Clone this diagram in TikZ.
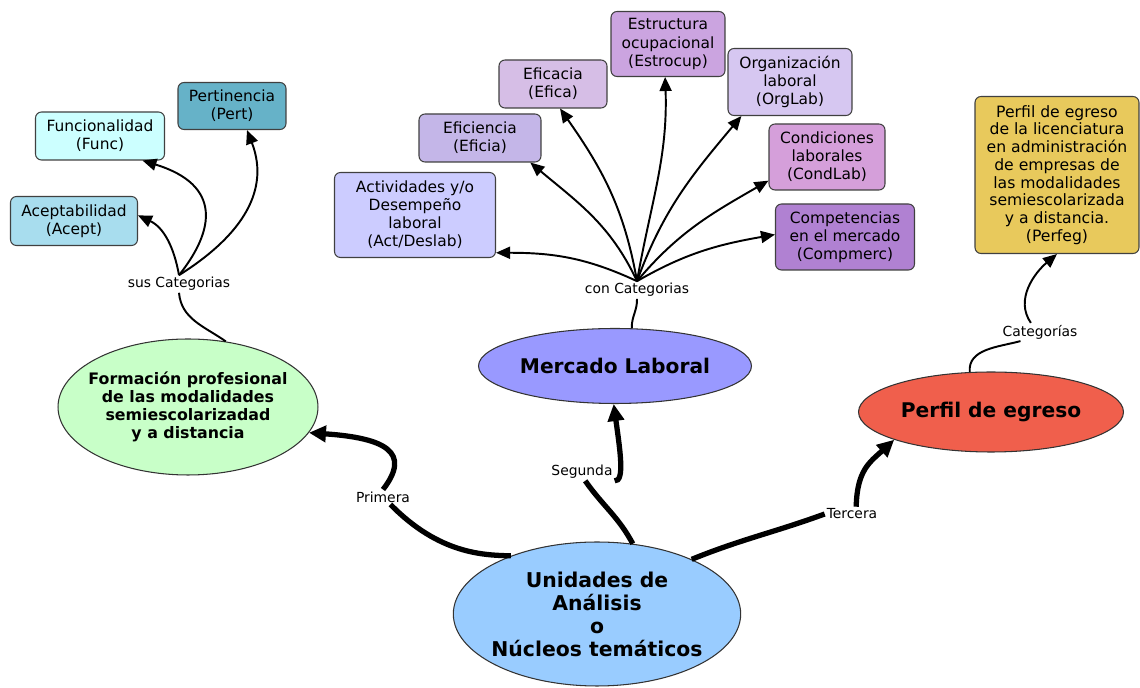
\documentclass[tikz,border=0pt]{standalone}
\usepackage{fontspec}
\setmainfont{DejaVu Sans}
\definecolor{cFun}{HTML}{CCFFFF}
\definecolor{cPer}{HTML}{66B2C8}
\definecolor{cAce}{HTML}{A8DDEE}
\definecolor{cAct}{HTML}{CCCCFF}
\definecolor{cEfi}{HTML}{C4B6E8}
\definecolor{cEfc}{HTML}{D6BEE6}
\definecolor{cEst}{HTML}{CBA4E0}
\definecolor{cOrg}{HTML}{D6C7F1}
\definecolor{cCon}{HTML}{D59FDA}
\definecolor{cCom}{HTML}{B081D2}
\definecolor{cPf}{HTML}{E8C95C}
\definecolor{cFor}{HTML}{C8FFC8}
\definecolor{cMer}{HTML}{9999FF}
\definecolor{cPeg}{HTML}{F05F4C}
\definecolor{cUni}{HTML}{99CCFF}
\usetikzlibrary{arrows.meta, shapes.geometric}

\begin{document}
\begin{tikzpicture}[x=0.02cm, y=-0.02cm,
    caja/.style={draw=black!75, line width=0.6pt, rounded corners=3.4pt, align=center, inner sep=1pt, font=\fontsize{8.8}{10.3}\selectfont},
    elipse/.style={draw=black!80, line width=0.6pt, ellipse, align=center, inner sep=0pt, font=\bfseries\fontsize{11.5}{13.1}\selectfont},
    etiq/.style={fill=white, inner sep=1pt, font=\fontsize{7.9}{9}\selectfont},
    fino/.style={line width=1.1pt},
    grueso/.style={line width=3pt},
    flechita/.style={-{Triangle[length=2.8mm,width=2.4mm]}},
    flecha/.style={-{Triangle[length=3.4mm,width=3.2mm]}}]
            \useasboundingbox (0,0) rectangle (1140,688);

            \node[caja, fill=cFun, minimum width=2.58cm, minimum height=0.96cm] (Fu) at (100,136) {Funcionalidad\\(Func)};
            \node[caja, fill=cPer, minimum width=2.16cm, minimum height=0.94cm] (Pe) at (232,106) {Pertinencia\\(Pert)};
            \node[caja, fill=cAce, minimum width=2.54cm, minimum height=0.98cm] (Ac) at (74,221) {Aceptabilidad\\(Acept)};
            \node[caja, fill=cAct, minimum width=3.22cm, minimum height=1.70cm] (Act) at (415,215) {Actividades y/o\\Desempeño\\laboral\\(Act/Deslab)};
            \node[caja, fill=cEfi, minimum width=2.44cm, minimum height=0.96cm] (Efi) at (480,138) {Eficiencia\\(Eficia)};
            \node[caja, fill=cEfc, minimum width=2.16cm, minimum height=0.96cm] (Efc) at (553,84) {Eficacia\\(Efica)};
            \node[caja, fill=cEst, minimum width=2.28cm, minimum height=1.30cm] (Est) at (668,44) {Estructura\\ocupacional\\(Estrocup)};
            \node[caja, fill=cOrg, minimum width=2.48cm, minimum height=1.34cm] (Org) at (790,82) {Organización\\laboral\\(OrgLab)};
            \node[caja, fill=cCon, minimum width=2.32cm, minimum height=1.32cm] (Con) at (827,157) {Condiciones\\laborales\\(CondLab)};
            \node[caja, fill=cCom, minimum width=2.78cm, minimum height=1.32cm] (Com) at (845,237) {Competencias\\en el mercado\\(Compmerc)};
            \node[caja, fill=cPf, minimum width=3.28cm, minimum height=3.14cm, font=\fontsize{8.9}{10.1}\selectfont] (Pf) at (1057,175) {Perfil de egreso\\de la licenciatura\\en administración\\de empresas de\\las modalidades\\semiescolarizada\\y a distancia.\\(Perfeg)};

            \node[elipse, fill=cFor, minimum width=5.2cm, minimum height=2.72cm, inner xsep=-0.18cm, font=\bfseries\fontsize{9}{10.3}\selectfont] (F) at (188,407) {Formación profesional\\de las modalidades\\semiescolarizadad\\y a distancia};
            \node[elipse, fill=cMer, minimum width=5.46cm, minimum height=1.5cm] (M) at (615,366) {Mercado Laboral};
            \node[elipse, fill=cPeg, minimum width=5.3cm, minimum height=1.6cm] (P) at (991,412) {Perfil de egreso};
            \node[elipse, fill=cUni, minimum width=5.7cm, minimum height=2.88cm, inner xsep=-0.08cm, font=\bfseries\fontsize{11.6}{13.1}\selectfont] (U) at (597,614) {Unidades de\\Análisis\\o\\Núcleos temáticos};

            \node[etiq] (S) at (179,284) {sus Categorias};
            \node[etiq] (C) at (637,290) {con Categorias};
            \node[etiq] (Ct) at (1040,332) {Categorías};
            \node[etiq] (Pr) at (383,497) {Primera};
            \node[etiq] (Sg) at (582,472) {Segunda};
            \node[etiq] (Te) at (852,514) {Tercera};

            \draw[fino] (F.60) to[out=145,in=-85] (S.south);
            \draw[fino,flechita] (S.north) to[out=100,in=-25] (Ac.5);
            \draw[fino,flechita] (S.north) .. controls (215,230) and (222,185) .. (Fu.-30);
            \draw[fino,flechita] (S.north) .. controls (235,240) and (272,195) .. (Pe.-58);

            \draw[fino] (M.66) to[out=92,in=-88] (C.south);
            \draw[fino,flechita] (C.north) to[out=155,in=0] (Act.-25);
            \draw[fino,flechita] (C.north) to[out=115,in=-40] (Efi.-26);
            \draw[fino,flechita] (C.north) to[out=100,in=-55] (Efc.-74);
            \draw[fino,flechita] (C.north) to[out=80,in=-88] (Est.-95);
            \draw[fino,flechita] (C.north) to[out=70,in=-130] (Org.-145);
            \draw[fino,flechita] (C.north) to[out=50,in=-150] (Con.-158);
            \draw[fino,flechita] (C.north) to[out=30,in=-170] (Com.178);

            \draw[fino] (P.118) to[out=95,in=195] (Ct.-155);
            \draw[fino,flechita] (Ct.135) to[out=125,in=-140] (Pf.south);

            \draw[grueso] (U.146) .. controls (485,555) and (440,555) .. (Pr.-45);
            \draw[grueso,flecha] (Pr.north) .. controls (412,452) and (385,438) .. (F.-12);
            \draw[grueso] (U.63) to[out=118,in=-55] (Sg.-70);
            \draw[grueso,flecha] (Sg.south east) .. controls (625,482) and (620,450) .. (M.-92);
            \draw[grueso] (U.30) to[out=22,in=200] (Te.west);
            \draw[grueso,flecha] (Te.60) .. controls (857,470) and (870,462) .. (P.-164);
        \end{tikzpicture}
\end{document}
